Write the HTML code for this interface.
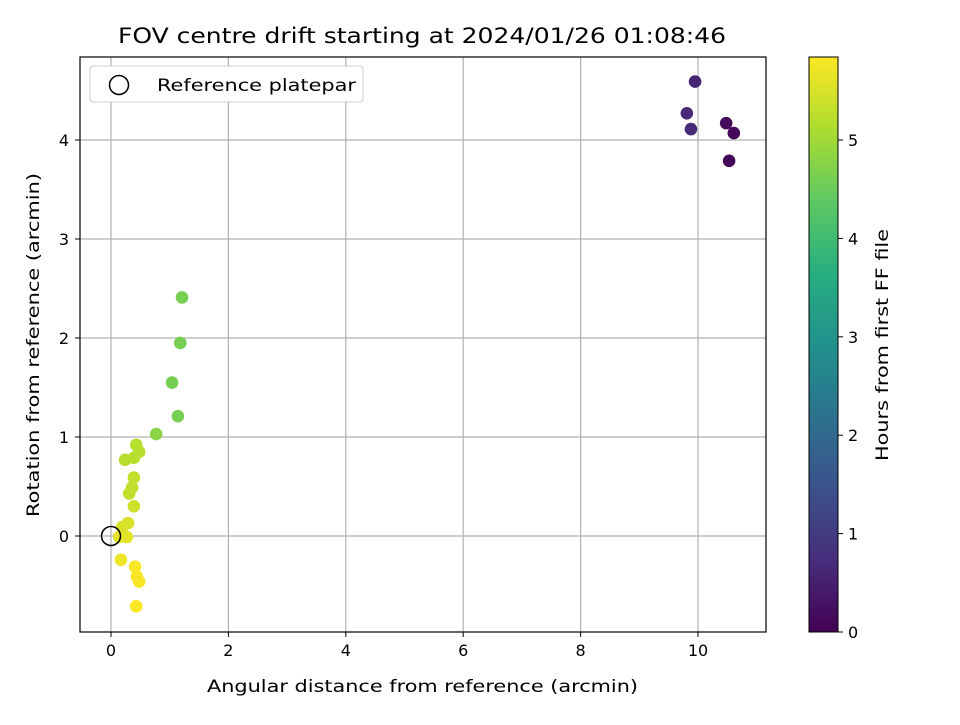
<!DOCTYPE html>
<html><head><meta charset="utf-8"><style>body{margin:0;background:#fff}svg text{font-family:"DejaVu Sans","Liberation Sans",sans-serif;fill:#000}</style></head>
<body>
<svg id="c" width="960" height="720" xmlns="http://www.w3.org/2000/svg">
<defs><linearGradient id="vir" x1="0" y1="1" x2="0" y2="0">
<stop offset="0" stop-color="#440154"/><stop offset="0.125" stop-color="#472d7b"/><stop offset="0.25" stop-color="#3b528b"/><stop offset="0.375" stop-color="#2c728e"/><stop offset="0.5" stop-color="#21918c"/><stop offset="0.625" stop-color="#28ae80"/><stop offset="0.75" stop-color="#5ec962"/><stop offset="0.875" stop-color="#addc30"/><stop offset="1" stop-color="#fde725"/></linearGradient></defs>
<text x="118" y="43" font-size="21" textLength="608" lengthAdjust="spacingAndGlyphs">FOV centre drift starting at 2024/01/26 01:08:46</text>
<g id="grid"></g><g id="pts"></g>
<rect x="80" y="57" width="686" height="575" fill="none" stroke="#000" stroke-width="1.2"/>
<g id="axes"></g>
<text x="207" y="692" font-size="17" textLength="431" lengthAdjust="spacingAndGlyphs">Angular distance from reference (arcmin)</text>
<text transform="translate(39,517) rotate(-90)" font-size="17" textLength="344" lengthAdjust="spacingAndGlyphs">Rotation from reference (arcmin)</text>
<g>
<rect x="90" y="66" width="273" height="36" rx="3" fill="#fff" stroke="#ccc"/>
<circle cx="119" cy="85" r="9.5" fill="none" stroke="#000" stroke-width="1.5"/>
<text x="157" y="91" font-size="17" textLength="199" lengthAdjust="spacingAndGlyphs">Reference platepar</text></g>
<rect x="809" y="57" width="29" height="575" fill="url(#vir)" stroke="#000" stroke-width="1"/>
<g id="cb"></g>
<text transform="translate(888,461) rotate(-90)" font-size="17" textLength="232" lengthAdjust="spacingAndGlyphs">Hours from first FF file</text>
</svg>
<script>
const xs=[9.95,9.81,9.88,10.48,10.61,10.53,1.21,1.18,1.04,1.14,0.77,0.43,0.24,0.39,0.48,0.39,0.36,0.31,0.39,0.19,0.29,0.14,0.27,0.17,0.41,0.44,0.48,0.43];
const ys=[4.59,4.27,4.11,4.17,4.07,3.79,2.41,1.95,1.55,1.21,1.03,0.92,0.77,0.79,0.85,0.59,0.49,0.43,0.30,0.09,0.13,-0.01,-0.01,-0.24,-0.31,-0.41,-0.46,-0.71];
const hrs=[0.6,0.7,0.7,0.15,0.1,0.05,4.6,4.6,4.6,4.6,4.8,5.2,5.2,5.2,5.2,5.3,5.3,5.3,5.4,5.5,5.5,5.6,5.6,5.7,5.8,5.8,5.8,5.85];
const xTicks=[0,2,4,6,8,10], yTicks=[0,1,2,3,4], cTicks=[0,1,2,3,4,5];
const X=v=>111+v*58.7, Y=v=>536-v*99, C=v=>632-v*98.4;
const NS="http://www.w3.org/2000/svg";
function mk(t,a,p){const e=document.createElementNS(NS,t);for(const k in a)e.setAttribute(k,a[k]);p.appendChild(e);return e;}
const vir=[[68,1,84],[71,45,123],[59,82,139],[44,114,142],[33,145,140],[40,174,128],[94,201,98],[173,220,48],[253,231,37]];
function col(h){let t=Math.max(0,Math.min(1,h/5.84))*8,i=Math.min(7,Math.floor(t)),f=t-i;const a=vir[i],b=vir[i+1];return `rgb(${a.map((v,k)=>Math.round(v+(b[k]-v)*f)).join(',')})`;}
const g=document.getElementById('grid'),ax=document.getElementById('axes'),pts=document.getElementById('pts'),cb=document.getElementById('cb');
xTicks.forEach(v=>{const l=mk('line',{x1:X(v),x2:X(v),y1:57,y2:632,stroke:'#b0b0b0','stroke-width':1.2},g);
 mk('line',{x1:X(v),x2:X(v),y1:632,y2:637,stroke:'#000'},ax);
 const t=mk('text',{x:X(v),y:656,'font-size':16,'text-anchor':'middle'},ax);t.textContent=v;});
yTicks.forEach(v=>{const l=mk('line',{x1:80,x2:766,y1:Y(v),y2:Y(v),stroke:'#b0b0b0','stroke-width':1.2},g);
 mk('line',{x1:75,x2:80,y1:Y(v),y2:Y(v),stroke:'#000'},ax);
 const t=mk('text',{x:69,y:Y(v)+6,'font-size':16,'text-anchor':'end'},ax);t.textContent=v;});
cTicks.forEach(v=>{mk('line',{x1:838,x2:843,y1:C(v),y2:C(v),stroke:'#000'},cb);
 const t=mk('text',{x:848,y:C(v)+6,'font-size':16},cb);t.textContent=v;});
xs.forEach((v,i)=>{const c=mk('circle',{cx:X(v),cy:Y(ys[i]),r:6.3,fill:col(hrs[i])},pts);});
const r=mk('circle',{cx:X(0),cy:Y(0),r:9.5,fill:'none',stroke:'#000','stroke-width':1.5},pts);


</script>
</body></html>
